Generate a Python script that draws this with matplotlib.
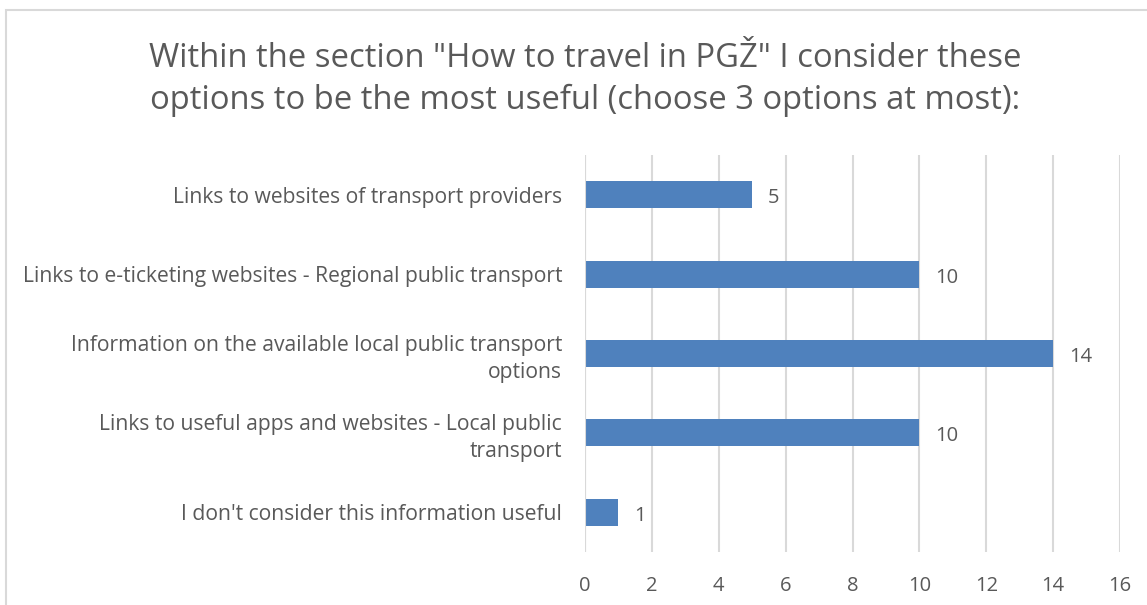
import matplotlib
matplotlib.use("Agg")
import matplotlib.pyplot as plt
from matplotlib.patches import Rectangle

categories = [
    "Links to websites of transport providers",
    "Links to e-ticketing websites - Regional public transport",
    "Information on the available local public transport\noptions",
    "Links to useful apps and websites - Local public\ntransport",
    "I don't consider this information useful",
]
values = [5, 10, 14, 10, 1]
xticks = [0, 2, 4, 6, 8, 10, 12, 14, 16]
title = 'Within the section "How to travel in PGŽ" I consider these\noptions to be the most useful (choose 3 options at most):'

plt.rcParams['font.family'] = ['Open Sans', 'DejaVu Sans']
TXT = '#595959'
W, H = 1147, 605
fig = plt.figure(figsize=(W / 100, H / 100), dpi=100)

# chart border
fig.patches.append(Rectangle((6 / W, -0.1), 1.2, 1 - 10 / H + 0.1, transform=fig.transFigure,
                             fill=False, edgecolor='#D9D9D9', linewidth=1.5))

ax = fig.add_axes([585 / W, 1 - 552 / H, (1120 - 585) / W, (552 - 155) / H])
ypos = list(range(len(categories)))
ax.barh(ypos, values, height=0.34, color='#4F81BD', zorder=3)
ax.set_ylim(len(categories) - 0.5, -0.5)
ax.set_xlim(0, 16)
ax.set_xticks(xticks)
ax.set_xticklabels([str(t) for t in xticks])
ax.set_yticks(ypos)
ax.set_yticklabels(categories, fontsize=15.2, color=TXT, multialignment='right', linespacing=1.36)
ax.tick_params(axis='x', length=0, pad=17, labelsize=14.5, labelcolor=TXT)
ax.tick_params(axis='y', length=0, pad=16.5)
ax.grid(axis='x', color='#D9D9D9', linewidth=1.5, zorder=0)
for s in ax.spines.values():
    s.set_visible(False)
ax.axvline(0, color='#D9D9D9', linewidth=1.5, zorder=4)

for y, v in zip(ypos, values):
    ax.annotate(str(v), (v, y), xytext=(16, -1), textcoords='offset pixels',
                va='center_baseline', ha='left', fontsize=14.5, color=TXT)

fig.text(585 / W, 1 - 79.5 / H, title, ha='center', va='center', fontsize=23.6, color=TXT,
         linespacing=1.35)

fig.savefig('out.png', dpi=100)
